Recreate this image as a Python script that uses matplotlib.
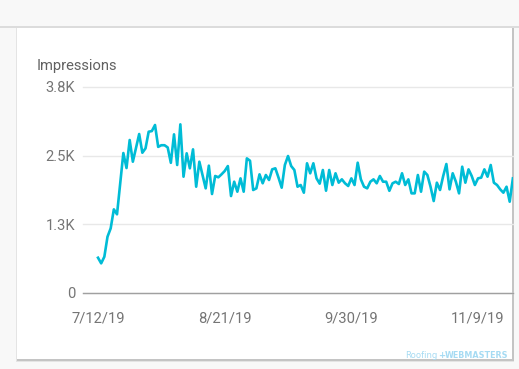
import numpy as np
import pandas as pd
import matplotlib
matplotlib.use('Agg')
import matplotlib.pyplot as plt
from matplotlib.patches import Rectangle

W, H = 519, 369

# daily impressions, starting 7/12/19
impressions = [
    642, 540, 660, 1025, 1177, 1523, 1432, 2000, 2548, 2275,
    2785, 2390, 2640, 2894, 2553, 2633, 2936, 2948, 3058, 2660,
    2690, 2690, 2650, 2370, 2888, 2330, 3070, 2117, 2543, 2270,
    2615, 1935, 2390, 2150, 1905, 2318, 1802, 2130, 2106, 2160,
    2220, 2311, 1765, 2026, 1844, 2087, 1844, 2451, 2408, 1875,
    1905, 2160, 1997, 2148, 2057, 2251, 2270, 2100, 1917, 2330,
    2494, 2311, 2239, 1935, 1966, 1826, 2361, 2179, 2361, 2087,
    1990, 2239, 1862, 2239, 1966, 2179, 2008, 2069, 1997, 1948,
    2087, 1966, 2372, 2069, 1935, 1905, 2026, 2069, 1997, 2130,
    2026, 2026, 1860, 1997, 2026, 1984, 2179, 1966, 2069, 1814,
    1814, 2148, 1844, 2209, 2148, 1935, 1674, 2008, 1875, 2130,
    2348, 1887, 2179, 2026, 1814, 2299, 2008, 2251, 2130, 1966,
    2087, 2100, 2251, 2117, 2330, 2008, 1966, 1887, 1826, 1935,
    1662, 2087,
]
start_date = '2019-07-12'
tick_dates = ['2019-07-12', '2019-08-21', '2019-09-30', '2019-11-09']
tick_labels = ['7/12/19', '8/21/19', '9/30/19', '11/9/19']
y_ticks = [0, 1250, 2500, 3750]
y_labels = ['0', '1.3K', '2.5K', '3.8K']

def fx(px):
    return px / W

def fy(py):
    return 1 - py / H

plt.rcParams['font.family'] = ['Roboto', 'DejaVu Sans']

fig = plt.figure(figsize=(W / 100, H / 100), dpi=100)
fig.patch.set_facecolor('#f8f8f8')

# header separator line
fig.add_artist(Rectangle((0, fy(28)), 1, 2 / H, facecolor='#dcdcdc', edgecolor='none', zorder=-6))
# card shadow + card
fig.add_artist(Rectangle((fx(16), fy(361.5)), fx(514 - 16), (361.5 - 28) / H,
                         facecolor='#e4e4e4', edgecolor='none', zorder=-5))
fig.add_artist(Rectangle((fx(16.5), fy(360.5)), fx(513.5 - 16.5), (360.5 - 28) / H,
                         facecolor='#c4c4c4', edgecolor='none', zorder=-4))
fig.add_artist(Rectangle((fx(17), fy(359.3)), fx(512.3 - 17), (359.3 - 28) / H,
                         facecolor='white', edgecolor='none', zorder=-3))

ax = fig.add_axes([fx(83), fy(293), fx(513 - 83), (293 - 87) / H])
ax.patch.set_alpha(0)

start = pd.Timestamp(start_date)
dates = pd.date_range(start, periods=len(impressions), freq='D')
ax.plot(dates, impressions, color='#00bcd6', lw=1.9, solid_joinstyle='round', zorder=3)

ax.set_ylim(0, 3750)
ax.set_xlim(start - pd.Timedelta(days=4.74), start + pd.Timedelta(days=131.04))
ax.set_yticks(y_ticks, y_labels)
ax.set_xticks(pd.to_datetime(tick_dates), tick_labels)
ax.grid(axis='y', color='#e8e8e8', lw=1)
for gl in ax.get_ygridlines():
    gl.set_clip_on(False)
for s in ['top', 'right', 'left']:
    ax.spines[s].set_visible(False)
ax.spines['bottom'].set_color('#a0a0a0')
ax.spines['bottom'].set_linewidth(1)
ax.tick_params(length=0, labelcolor='#757575', labelsize=10.6)
ax.tick_params(axis='y', pad=5.5)
ax.tick_params(axis='x', pad=13)

fig.text(fx(37), fy(70), 'Impressions', fontsize=10.6, color='#616161', va='baseline')

# watermark
fig.text(fx(405), fy(357.5), 'Roofing', fontsize=6.1, color='#a6dbf3',
         family='DejaVu Sans', va='baseline')
fig.text(fx(442), fy(357.5), '+', fontsize=6.2, color='#a6dbf3',
         family='DejaVu Sans', weight='bold', va='baseline', ha='center')
fig.text(fx(508), fy(357.5), 'WEBMASTERS', fontsize=5.8, color='#a6dbf3',
         family='DejaVu Sans', weight='bold', va='baseline', ha='right')

fig.savefig('out.png', dpi=100, facecolor=fig.get_facecolor())
